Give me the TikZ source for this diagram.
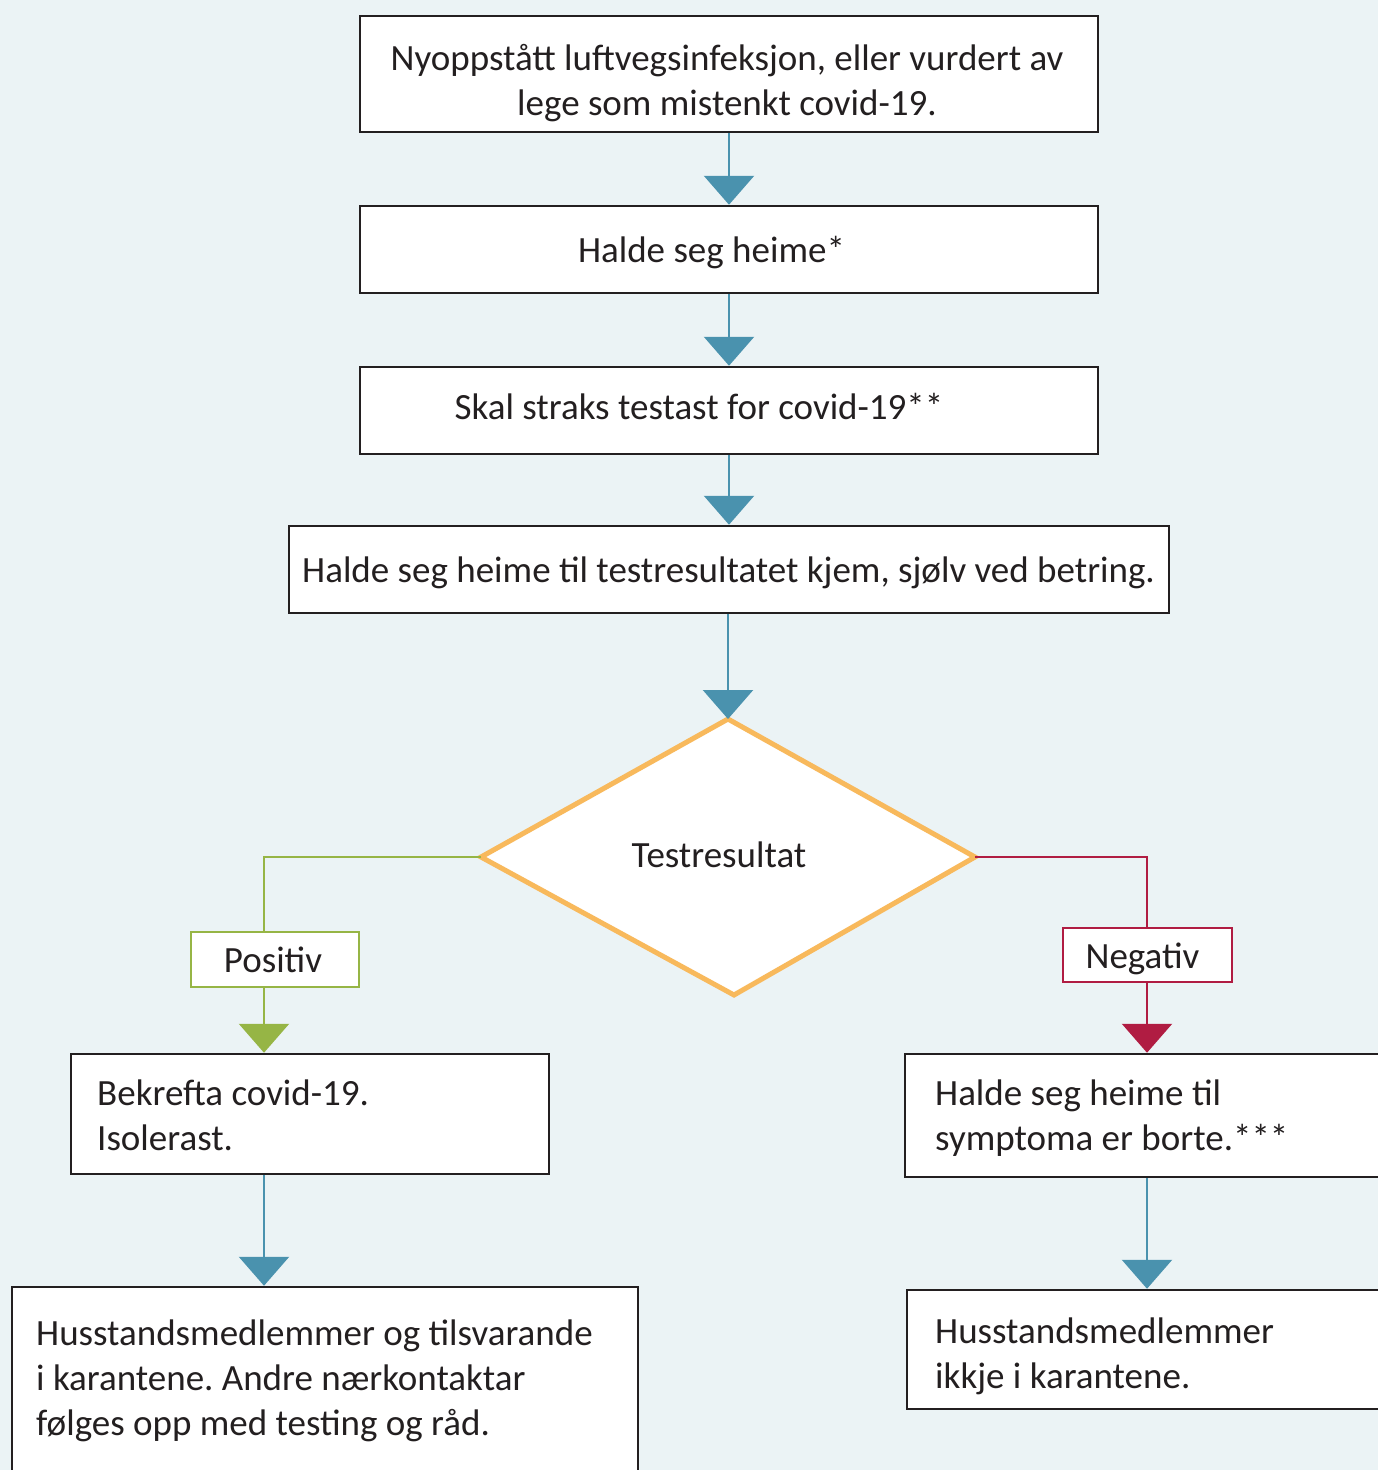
\documentclass[tikz,border=0pt]{standalone}
\usepackage{fontspec}
\setmainfont{Carlito}
\usetikzlibrary{arrows.meta}
\definecolor{bgc}{RGB}{235,243,245}
\definecolor{bluec}{RGB}{74,146,174}
\definecolor{greenc}{RGB}{150,181,69}
\definecolor{redc}{RGB}{176,28,66}
\definecolor{orangec}{RGB}{248,185,92}
\definecolor{darkc}{RGB}{35,31,32}
\frenchspacing
\begin{document}
\begin{tikzpicture}[x=1pt,y=-1pt,
  box/.style={draw=darkc,line width=2.5pt,fill=white,inner sep=0pt},
  txt/.style={inner sep=0pt,text=darkc,font=\fontsize{37}{45}\selectfont\frenchspacing,anchor=base},
  ltxt/.style={txt,anchor=base west,text width=600pt,align=flush left},
  ctxt/.style={txt,text width=738pt,align=flush center},
  flow/.style={draw=bluec,line width=2.5pt,-{Triangle[width=50pt,length=29pt]}},
  gline/.style={draw=greenc,line width=2.5pt},
  rline/.style={draw=redc,line width=2.5pt},
  tipend/.style={-{Triangle[width=50pt,length=29pt]}}
]
\useasboundingbox (0,0) rectangle (1378,1470);
\clip (0,0) rectangle (1378,1470);
\fill[bgc] (0,0) rectangle (1378,1470);

% boxes
\node[box,minimum width=738pt,minimum height=116pt] (b1) at (729,74) {};
\node[box,minimum width=738pt,minimum height=87pt] (b2) at (729,249.5) {};
\node[box,minimum width=738pt,minimum height=87pt] (b3) at (729,410.5) {};
\node[box,minimum width=880pt,minimum height=87pt] (b4) at (729,569.5) {};
\node[box,draw=greenc,minimum width=168pt,minimum height=55pt] (pos) at (275,959.5) {};
\node[box,draw=redc,minimum width=169pt,minimum height=54pt] (neg) at (1147.5,955) {};
\node[box,minimum width=478pt,minimum height=120pt] (b5) at (310,1114) {};
\node[box,minimum width=626pt,minimum height=190pt] (b6) at (325,1382) {};
\node[box,minimum width=495pt,minimum height=123pt] (b7) at (1152.5,1115.5) {};
\node[box,minimum width=493pt,minimum height=119pt] (b8) at (1153.5,1349.5) {};

% decision diamond
\coordinate (dt) at (728,719);
\coordinate (dr) at (975,857);
\coordinate (db) at (734,995);
\coordinate (dl) at (481,857);
\draw[draw=orangec,line width=5pt,fill=white,line join=miter] (dt) -- (dr) -- (db) -- (dl) -- cycle;

% texts
\node[ctxt] (t1) at (727,70) {Nyoppstått luftvegsinfeksjon, eller vurdert av\\lege som mistenkt covid-19.};
\node[txt] (t2) at (711.5,262) {Halde seg heime*};
\node[txt] (t3) at (699,419.5) {Skal straks testast for covid-19**};
\node[txt] (t4) at (728.5,582) {Halde seg heime til testresultatet kjem, sjølv ved betring.};
\node[txt] (td) at (719,867) {Testresultat};
\node[txt] (tp) at (273,972) {Positiv};
\node[txt] (tn) at (1142.5,968) {Negativ};
\node[ltxt] (t5) at (97,1105) {Bekrefta covid-19.\\Isolerast.};
\node[ltxt] (t6) at (36,1345) {Husstandsmedlemmer og tilsvarande\\i karantene. Andre nærkontaktar\\følges opp med testing og råd.};
\node[ltxt] (t7) at (935,1105) {Halde seg heime til\\symptoma er borte.***};
\node[ltxt] (t8) at (935,1343) {Husstandsmedlemmer\\ikkje i karantene.};

\coordinate (gx) at (264,857);
\coordinate (rx) at (1147,857);

% connectors
\draw[flow] (b1) -- (b2);
\draw[flow] (b2) -- (b3);
\draw[flow] (b3) -- (b4);
\draw[flow] (b4.south -| dt) -- (dt);

\draw[gline] (dl) -- (gx) -- (gx |- pos.north);
\draw[gline,tipend] (gx |- pos.south) -- (gx |- b5.north);
\draw[rline] (dr) -- (rx) -- (rx |- neg.north);
\draw[rline,tipend] (rx |- neg.south) -- (rx |- b7.north);

\draw[flow] (gx |- b5.south) -- (gx |- b6.north);
\draw[flow] (rx |- b7.south) -- (rx |- b8.north);
\end{tikzpicture}
\end{document}
